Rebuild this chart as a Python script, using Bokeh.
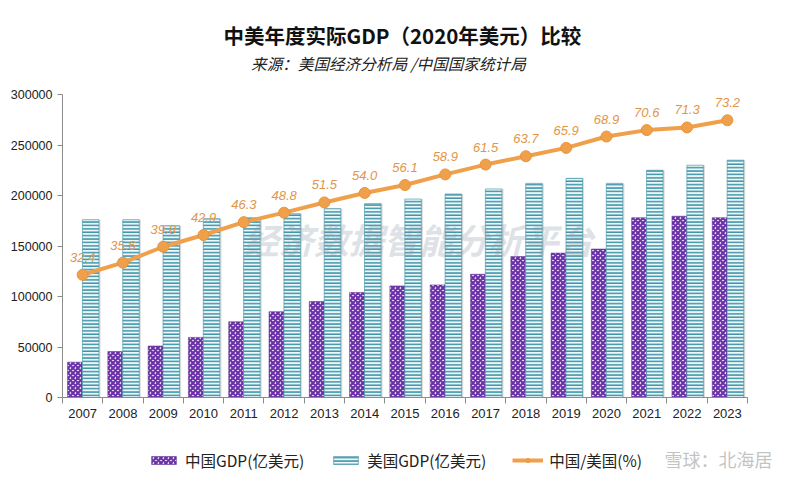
from bokeh.plotting import figure
from bokeh.layouts import column, row
from bokeh.models import (ColumnDataSource, Range1d, FixedTicker, LabelSet, Legend,
                          LegendItem, Label, NumeralTickFormatter)
from bokeh.core.properties import value
from bokeh.transform import dodge
from bokeh.embed import file_html
from bokeh.resources import INLINE

years = ["2007", "2008", "2009", "2010", "2011", "2012", "2013", "2014", "2015",
         "2016", "2017", "2018", "2019", "2020", "2021", "2022", "2023"]
china_gdp = [35000, 45500, 51000, 59500, 75000, 85000, 95000, 104000, 110500,
             111500, 122000, 139500, 143000, 147000, 178000, 179500, 178000]
us_gdp = [176000, 176000, 170000, 177000, 178000, 182000, 187000, 192000, 196500,
          201500, 206500, 212000, 217000, 212000, 225000, 230000, 235000]
ratio = [32.4, 35.6, 39.8, 42.9, 46.3, 48.8, 51.5, 54.0, 56.1,
         58.9, 61.5, 63.7, 65.9, 68.9, 70.6, 71.3, 73.2]
y_ticks = [0, 50000, 100000, 150000, 200000, 250000, 300000]
title_text = "中美年度实际GDP（2020年美元）比较"
subtitle_text = "来源：美国经济分析局 /中国国家统计局"

xs = [i + 0.5 for i in range(len(years))]
src = ColumnDataSource(dict(x=xs, year=years, china=china_gdp, us=us_gdp, ratio=ratio,
                            rlabel=[f"{r:.1f}" for r in ratio]))

CN_STYLE = dict(fill_color="#efe6f8", line_color="#5a2a8a", line_width=0.5,
                hatch_pattern="diagonal_cross", hatch_color="#6a30a8", hatch_weight=2.2, hatch_scale=5)
US_STYLE = dict(fill_color="#eef8fa", line_color="#3a8da0", line_width=0.6,
                hatch_pattern="horizontal_line", hatch_color="#3e94a8", hatch_weight=1.6, hatch_scale=3.4)
LINE_COLOR = "#f0a04a"
W = 784
NOB = dict(min_border_left=0, min_border_right=0, min_border_top=0, min_border_bottom=0)

# ---- title strip
tf = figure(width=W, height=80, output_backend="svg", toolbar_location=None,
            x_range=Range1d(0, W), y_range=Range1d(0, 80),
            x_axis_type=None, y_axis_type=None, **NOB)
tf.outline_line_color = None
tf.grid.visible = False
tf.add_layout(Label(x=389, y=46, text=title_text, text_align="center", text_baseline="middle",
                    text_font="Noto Sans CJK SC", text_font_style="bold",
                    text_font_size="20.5px", text_color="#111111"))
tf.add_layout(Label(x=373, y=18, text=subtitle_text, text_align="center", text_baseline="middle",
                    text_font="Noto Sans CJK SC", text_font_style="italic",
                    text_font_size="15.6px", text_color="#222222"))

# ---- main chart
p = figure(width=W, height=358, output_backend="svg", toolbar_location=None,
           x_range=Range1d(0, len(years)), y_range=Range1d(0, 300000),
           min_border_left=62, min_border_right=37, min_border_bottom=41, min_border_top=14)
p.extra_y_ranges = {"ratio": Range1d(0, 80)}
p.outline_line_color = None
p.grid.visible = False

p.vbar(x=dodge("x", 0.245, range=p.x_range), top="us", width=0.40, source=src,
       fill_color="#9a9a9a", fill_alpha=0.35, line_color=None)
p.vbar(x=dodge("x", -0.19, range=p.x_range), top="china", width=0.37, source=src, **CN_STYLE)
p.vbar(x=dodge("x", 0.2, range=p.x_range), top="us", width=0.41, source=src, **US_STYLE)

p.line("x", "ratio", source=src, y_range_name="ratio", line_color=LINE_COLOR, line_width=4)
p.scatter("x", "ratio", source=src, y_range_name="ratio", size=11,
          fill_color=LINE_COLOR, line_color="#e8953a")

p.add_layout(LabelSet(x="x", y="ratio", text="rlabel", source=src, y_range_name="ratio",
                      y_offset=13, text_align="center", text_color="#e2954a",
                      text_font=value("Liberation Sans"), text_font_style="italic",
                      text_font_size="13px"))

p.add_layout(Label(x=4.5, y=157000, text="经济数据智能分析平台", text_font="Noto Sans CJK SC",
                   text_font_style="bold italic", text_font_size="35px", text_color="#8a9aa8",
                   text_alpha=0.3, text_baseline="middle"))

p.yaxis.ticker = FixedTicker(ticks=y_ticks)
p.yaxis.formatter = NumeralTickFormatter(format="0")
p.yaxis.axis_line_color = "#8c8c8c"
p.yaxis.major_tick_line_color = "#8c8c8c"
p.yaxis.major_tick_in = 0
p.yaxis.major_tick_out = 5
p.yaxis.minor_tick_line_color = None
p.yaxis.major_label_text_font = "Liberation Sans"
p.yaxis.major_label_text_font_size = "12.5px"
p.yaxis.major_label_text_color = "#222222"

p.xaxis.ticker = FixedTicker(ticks=xs, minor_ticks=list(range(len(years) + 1)))
p.xaxis.major_label_overrides = {x: y for x, y in zip(xs, years)}
p.xaxis.axis_line_color = "#8c8c8c"
p.xaxis.major_tick_line_color = None
p.xaxis.minor_tick_line_color = "#8c8c8c"
p.xaxis.minor_tick_in = 0
p.xaxis.minor_tick_out = 6
p.xaxis.major_label_standoff = 5
p.xaxis.major_label_text_font = "Liberation Sans"
p.xaxis.major_label_text_font_size = "13px"
p.xaxis.major_label_text_color = "#222222"

# ---- legend strip (proxy renderers are hidden; only their legend glyphs show)
LW = 650
lg = figure(width=LW, height=40, output_backend="svg", toolbar_location=None,
            x_range=Range1d(0, LW), y_range=Range1d(0, 40),
            x_axis_type=None, y_axis_type=None, **NOB)
lg.outline_line_color = None
lg.grid.visible = False
r_cn = lg.vbar(x="x", top="china", width=1, source=src, visible=False, **CN_STYLE)
r_us = lg.vbar(x="x", top="us", width=1, source=src, visible=False, **US_STYLE)
r_ln = lg.line("x", "ratio", source=src, visible=False, line_color=LINE_COLOR, line_width=4)
r_mk = lg.scatter("x", "ratio", source=src, visible=False, size=9,
                  fill_color=LINE_COLOR, line_color="#e8953a")
lg.add_layout(Legend(items=[LegendItem(label="中国GDP(亿美元)", renderers=[r_cn]),
                            LegendItem(label="美国GDP(亿美元)", renderers=[r_us]),
                            LegendItem(label="中国/美国(%)", renderers=[r_ln, r_mk])],
                     orientation="horizontal", location=(148, 7), border_line_color=None,
                     background_fill_alpha=0, inactive_fill_alpha=0,
                     label_text_font="Noto Sans CJK SC", label_text_font_size="15.5px",
                     label_text_color="#222222", glyph_width=31, glyph_height=10,
                     label_standoff=6, spacing=26, margin=0, padding=2))

wm = figure(width=W - LW, height=40, output_backend="svg", toolbar_location=None,
            x_range=Range1d(0, W - LW), y_range=Range1d(0, 40),
            x_axis_type=None, y_axis_type=None, **NOB)
wm.outline_line_color = None
wm.grid.visible = False
wm.add_layout(Label(x=14, y=20, text="雪球：北海居", text_baseline="middle",
                    text_font="Noto Sans CJK SC", text_font_size="18px", text_color="#b0b0b0",
                    text_alpha=0.75))

layout = column(tf, p, row(lg, wm, spacing=0), spacing=0)
open("out.html", "w").write(file_html(layout, INLINE))
